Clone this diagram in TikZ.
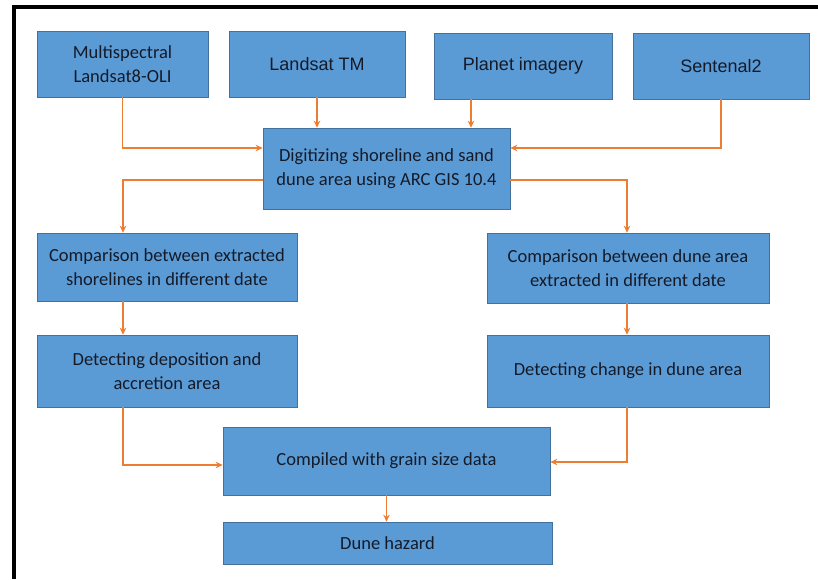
\documentclass[tikz,border=0pt]{standalone}
\usepackage{fontspec}
\setmainfont{Carlito}
\newfontfamily\arialfont{Liberation Sans}
\usetikzlibrary{arrows.meta}
\definecolor{boxblue}{HTML}{5B9BD5}
\definecolor{boxline}{HTML}{41719C}
\definecolor{flowor}{HTML}{ED7D31}
\definecolor{ink}{HTML}{141A28}
\begin{document}
\begin{tikzpicture}[x=1pt,y=-1pt,
    box/.style={draw=boxline,line width=0.6pt,fill=boxblue,text=ink,align=center,
      inner sep=0pt,font=\fontsize{18.5}{24}\selectfont},
    flow/.style={draw=flowor,line width=1.9pt,-{Stealth[length=7pt,width=6.5pt]}}]
    \useasboundingbox (0,0) rectangle (818,579);
    \draw[line width=4pt] (14,579) -- (14,7) -- (818,7);
    \node[box,minimum width=171pt,minimum height=66pt] (multi) at (122.5,64) {Multispectral\\Landsat8-OLI};
    \node[box,minimum width=176pt,minimum height=66pt,font=\arialfont\fontsize{18}{22}\selectfont] (tm) at (317,64) {Landsat TM};
    \node[box,minimum width=178pt,minimum height=66pt,font=\arialfont\fontsize{18}{22}\selectfont] (planet) at (523,66) {Planet imagery};
    \node[box,minimum width=176pt,minimum height=66pt,font=\arialfont\fontsize{18}{22}\selectfont] (sent) at (721,66) {Sentenal2};
    \node[box,minimum width=247pt,minimum height=81pt] (digit) at (386.5,168.5) {Digitizing shoreline and sand\\dune area using ARC GIS 10.4};
    \node[box,minimum width=260pt,minimum height=68pt] (cmpL) at (167,267) {Comparison between extracted\\shorelines in different date};
    \node[box,minimum width=282pt,minimum height=70pt] (cmpR) at (628,268) {Comparison between dune area\\extracted in different date};
    \node[box,minimum width=260pt,minimum height=72pt] (detL) at (167,371) {Detecting deposition and\\accretion area};
    \node[box,minimum width=282pt,minimum height=72pt] (detR) at (628,371) {Detecting change in dune area};
    \node[box,minimum width=327pt,minimum height=68pt] (comp) at (386.5,461) {Compiled with grain size data};
    \node[box,minimum width=329pt,minimum height=42pt] (haz) at (387.5,543) {Dune hazard};
    \draw[flow] (multi.south) |- ([yshift=20.5pt]digit.west);
    \draw[flow] (tm.south) -- (tm.south |- digit.north);
    \draw[flow] ([xshift=-52pt]planet.south) -- ([xshift=-52pt]planet.south |- digit.north);
    \draw[flow] (sent.south) |- ([yshift=20.5pt]digit.east);
    \draw[flow] ([yshift=-11.5pt]digit.west) -| ([xshift=-44pt]cmpL.north);
    \draw[flow] ([yshift=-11.5pt]digit.east) -| ([xshift=-1pt]cmpR.north);
    \draw[flow] ([xshift=-44pt]cmpL.south) -- ([xshift=-44pt]detL.north);
    \draw[flow] ([xshift=-1pt]cmpR.south) -- ([xshift=-1pt]detR.north);
    \draw[flow] ([xshift=-44pt]detL.south) |- ([yshift=-4pt]comp.west);
    \draw[flow] ([xshift=-1pt]detR.south) |- ([yshift=-1pt]comp.east);
    \draw[flow] (comp.south) -- (comp.south |- haz.north);
\end{tikzpicture}
\end{document}
